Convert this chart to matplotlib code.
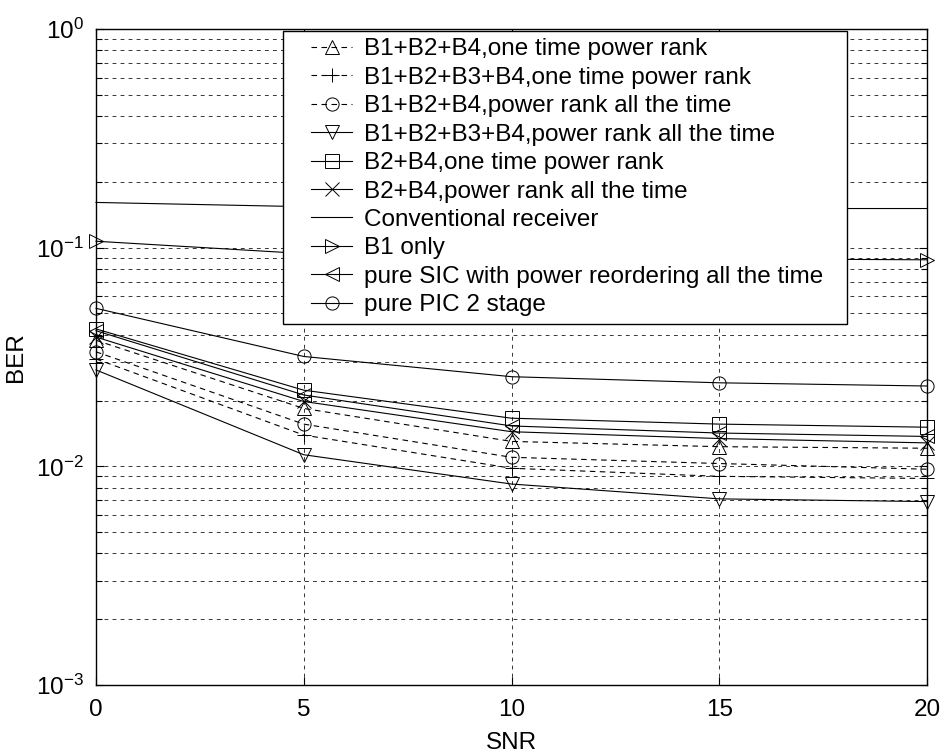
import numpy as np
import matplotlib
matplotlib.use("Agg")
import matplotlib.pyplot as plt
from matplotlib.legend_handler import HandlerLine2D
from matplotlib.ticker import FixedLocator, FixedFormatter, LogLocator, NullFormatter

plt.rcParams['font.family'] = ['Liberation Sans', 'DejaVu Sans']
plt.rcParams['mathtext.fontset'] = 'custom'
plt.rcParams['mathtext.rm'] = 'Liberation Sans'
plt.rcParams['mathtext.it'] = 'Liberation Sans'

# SNR points (dB)
snr = [0, 5, 10, 15, 20]

# BER curves
ber_b124_once = [0.0377, 0.0184, 0.0130, 0.0123, 0.0121]
ber_b1234_once = [0.0310, 0.0139, 0.0098, 0.0090, 0.0088]
ber_b124_always = [0.0334, 0.0156, 0.0110, 0.0103, 0.0097]
ber_b1234_always = [0.0276, 0.0113, 0.0083, 0.0071, 0.0069]
ber_b24_once = [0.0425, 0.0223, 0.0166, 0.0156, 0.0151]
ber_b24_always = [0.0390, 0.0198, 0.0144, 0.0134, 0.0128]
ber_conventional = [0.161, 0.154, 0.152, 0.151, 0.151]
ber_b1_only = [0.107, 0.094, 0.091, 0.089, 0.088]
ber_pure_sic = [0.0417, 0.0212, 0.0153, 0.0142, 0.0137]
ber_pure_pic = [0.0528, 0.0318, 0.0257, 0.0241, 0.0233]

labels = [
    "B1+B2+B4,one time power rank",
    "B1+B2+B3+B4,one time power rank",
    "B1+B2+B4,power rank all the time",
    "B1+B2+B3+B4,power rank all the time",
    "B2+B4,one time power rank",
    "B2+B4,power rank all the time",
    "Conventional receiver",
    "B1 only",
    "pure SIC with power reordering all the time",
    "pure PIC 2 stage",
]

x_ticks = [0, 5, 10, 15, 20]
y_ticks = [1e-3, 1e-2, 1e-1, 1e0]
y_tick_labels = [r'$\mathdefault{10^{-3}}$', r'$\mathdefault{10^{-2}}$',
                 r'$\mathdefault{10^{-1}}$', r'$\mathdefault{10^{0}}$']

dash = (0, (5, 4))
series = [
    (ber_b124_once, '^', dash),
    (ber_b1234_once, '+', dash),
    (ber_b124_always, 'o', dash),
    (ber_b1234_always, 'v', '-'),
    (ber_b24_once, 's', '-'),
    (ber_b24_always, 'x', '-'),
    (ber_conventional, None, '-'),
    (ber_b1_only, '>', '-'),
    (ber_pure_sic, '<', '-'),
    (ber_pure_pic, 'o', '-'),
]

fig = plt.figure(figsize=(9.44, 7.55), dpi=100)
ax = fig.add_axes([0.1017, 0.0927, 0.8803, 0.8689])

for (vals, mk, ls), lab in zip(series, labels):
    ax.semilogy(snr, vals, color='k', linestyle=ls, linewidth=0.8,
                marker=mk, markersize=9.5, markerfacecolor='none',
                markeredgecolor='k', markeredgewidth=0.7, label=lab,
                clip_on=False, zorder=3)

ax.set_xlim(0, 20)
ax.set_ylim(1e-3, 1e0)
ax.xaxis.set_major_locator(FixedLocator(x_ticks))
ax.yaxis.set_major_locator(FixedLocator(y_ticks))
ax.yaxis.set_major_formatter(FixedFormatter(y_tick_labels))
ax.yaxis.set_minor_locator(LogLocator(base=10, subs=np.arange(2, 10)))
ax.yaxis.set_minor_formatter(NullFormatter())

grid_kw = dict(color='k', linestyle=(0, (5, 5.5)), linewidth=0.55)
ax.grid(True, which='major', axis='both', **grid_kw)
ax.grid(True, which='minor', axis='y', **grid_kw)
ax.set_axisbelow(True)

for sp in ax.spines.values():
    sp.set_linewidth(1.0)

ax.tick_params(which='both', direction='in', top=True, right=True,
               labelsize=17.5, width=0.8)
ax.tick_params(which='major', length=6)
ax.tick_params(which='minor', length=4)
ax.tick_params(axis='x', pad=10)
ax.tick_params(axis='y', pad=9)

ax.set_xlabel("SNR", fontsize=17.5, labelpad=8)
ax.set_ylabel("BER", fontsize=17.5, labelpad=6)


class ShortLineHandler(HandlerLine2D):
    """Legend sample whose line starts part-way into the handle box."""
    def get_xdata(self, legend, xdescent, ydescent, width, height, fontsize):
        x0 = -xdescent + 0.34 * width
        x1 = -xdescent + width
        return np.array([x0, x1]), np.array([(x0 + x1) / 2.0])


handles, labs = ax.get_legend_handles_labels()
leg = ax.legend(handles, labs, loc='upper left',
                bbox_to_anchor=(0.225, 0.549, 0.679, 0.448), mode='expand',
                borderaxespad=0.0, fontsize=17.5, labelspacing=0.265,
                handlelength=2.55, handletextpad=0.5, borderpad=0.3,
                numpoints=1, fancybox=False, framealpha=1.0,
                handler_map={h: ShortLineHandler() for h in handles})
leg.get_frame().set_edgecolor('k')
leg.get_frame().set_linewidth(1.0)
leg.set_zorder(5)

fig.savefig("out.png", dpi=100)
